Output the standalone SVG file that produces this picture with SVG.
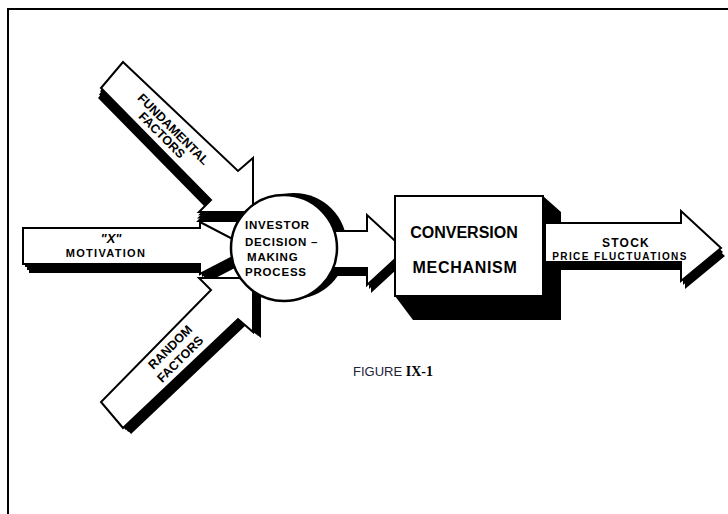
<svg xmlns="http://www.w3.org/2000/svg" width="728" height="514" viewBox="0 0 728 514">
  <style>
    .frame { stroke: #000; stroke-width: 2; fill: none; }
    .body { fill: #fff; stroke: #000; stroke-width: 2; stroke-linejoin: miter; }
    .shade { fill: #000; }
    .lbl { font-family: "Liberation Sans", Arial, sans-serif; font-weight: bold; fill: #000; }
    .cap { font-family: "Liberation Sans", Arial, sans-serif; font-size: 13px; fill: #22223a; }
  </style>
  <defs>
    <!-- arrow outlines -->
    <path id="shapeX" d="M23,228 L200,228 L200,222 L250,248 L200,274 L200,264 L23,264 Z"/>
    <path id="shapeF" d="M123,62 L238,171 L253,158 L253,212 L199,212 L211,200 L101,88 Z"/>
    <path id="shapeR" d="M123,428 L238,319 L253,332 L253,278 L199,278 L211,290 L101,402 Z"/>
    <path id="shapeC" d="M320,231 L367,231 L367,215 L405,250 L367,285 L367,268 L320,268 Z"/>
    <path id="shapeO" d="M545,223 L681,223 L681,211 L721,248 L681,281 L681,262 L545,262 Z"/>
  </defs>

  <rect width="728" height="514" fill="#fff"/>

  <!-- page frame -->
  <g id="frame">
    <path class="frame" d="M8,514 L8,9 L728,9"/>
  </g>

  <g id="connectors">
    <!-- "X" motivation arrow -->
    <g id="arrow-x">
      <g class="shade">
        <use href="#shapeX" transform="translate(2,3)"/>
        <use href="#shapeX" transform="translate(4,6)"/>
        <use href="#shapeX" transform="translate(6,9)"/>
      </g>
      <use href="#shapeX" class="body"/>
    </g>

    <!-- fundamental factors arrow -->
    <g id="arrow-fundamental">
      <g class="shade">
        <use href="#shapeF" transform="translate(-1,3.3)"/>
        <use href="#shapeF" transform="translate(-2,6.6)"/>
        <use href="#shapeF" transform="translate(-3,10)"/>
      </g>
      <use href="#shapeF" class="body"/>
    </g>

    <!-- random factors arrow -->
    <g id="arrow-random">
      <g class="shade">
        <use href="#shapeR" transform="translate(2.7,2)"/>
        <use href="#shapeR" transform="translate(5.3,4)"/>
        <use href="#shapeR" transform="translate(8,6)"/>
      </g>
      <use href="#shapeR" class="body"/>
    </g>
  </g>

  <!-- decision process disc -->
  <g id="node-investor">
    <circle cx="294" cy="246" r="53" fill="#000"/>
    <g id="arrow-to-conversion">
      <g class="shade">
        <use href="#shapeC" transform="translate(2,4)"/>
        <use href="#shapeC" transform="translate(4,8)"/>
      </g>
      <use href="#shapeC" class="body"/>
    </g>
    <circle cx="284" cy="248" r="53" fill="#fff" stroke="#000" stroke-width="2.5"/>
    <g class="lbl" font-size="11.5" letter-spacing="0.8">
      <text x="245" y="229">INVESTOR</text>
      <text x="245" y="246">DECISION –</text>
      <text x="247" y="261">MAKING</text>
      <text x="245" y="276">PROCESS</text>
    </g>
  </g>

  <!-- conversion block -->
  <g id="node-conversion">
    <polygon class="shade" points="543,196 561,212 561,320 413,320 395,296"/>
    <rect x="395" y="196" width="148" height="100" class="body"/>
    <g class="lbl" font-size="16" text-anchor="middle">
      <text x="464" y="238">CONVERSION</text>
      <text x="465" y="273" letter-spacing="0.7">MECHANISM</text>
    </g>
  </g>

  <!-- output arrow -->
  <g id="node-stock">
    <g class="shade">
      <use href="#shapeO" transform="translate(2,4)"/>
      <use href="#shapeO" transform="translate(4,8)"/>
    </g>
    <use href="#shapeO" class="body"/>
    <g class="lbl" text-anchor="middle">
      <text x="626" y="247" font-size="12" letter-spacing="1.2">STOCK</text>
      <text x="620" y="260" font-size="10" letter-spacing="1.4">PRICE FLUCTUATIONS</text>
    </g>
  </g>

  <!-- input labels -->
  <g id="node-x" class="lbl" text-anchor="middle">
    <text x="111" y="243" font-size="13" font-style="italic">"X"</text>
    <text x="106" y="257" font-size="11" letter-spacing="1.3">MOTIVATION</text>
  </g>
  <g id="node-fundamental" class="lbl" text-anchor="middle" font-size="12.5">
    <text transform="translate(173.5,129) rotate(45)" y="4.5">FUNDAMENTAL</text>
    <text transform="translate(162,135) rotate(45)" y="4.5">FACTORS</text>
  </g>
  <g id="node-random" class="lbl" text-anchor="middle" font-size="12.5">
    <text transform="translate(170,347) rotate(-45)" y="4.5">RANDOM</text>
    <text transform="translate(180,359) rotate(-45)" y="4.5">FACTORS</text>
  </g>

  <!-- caption -->
  <g id="caption">
    <text class="cap" x="353" y="376">FIGURE <tspan font-family="'Liberation Serif', serif" font-weight="bold" font-size="14" fill="#000">IX-1</tspan></text>
  </g>
</svg>
